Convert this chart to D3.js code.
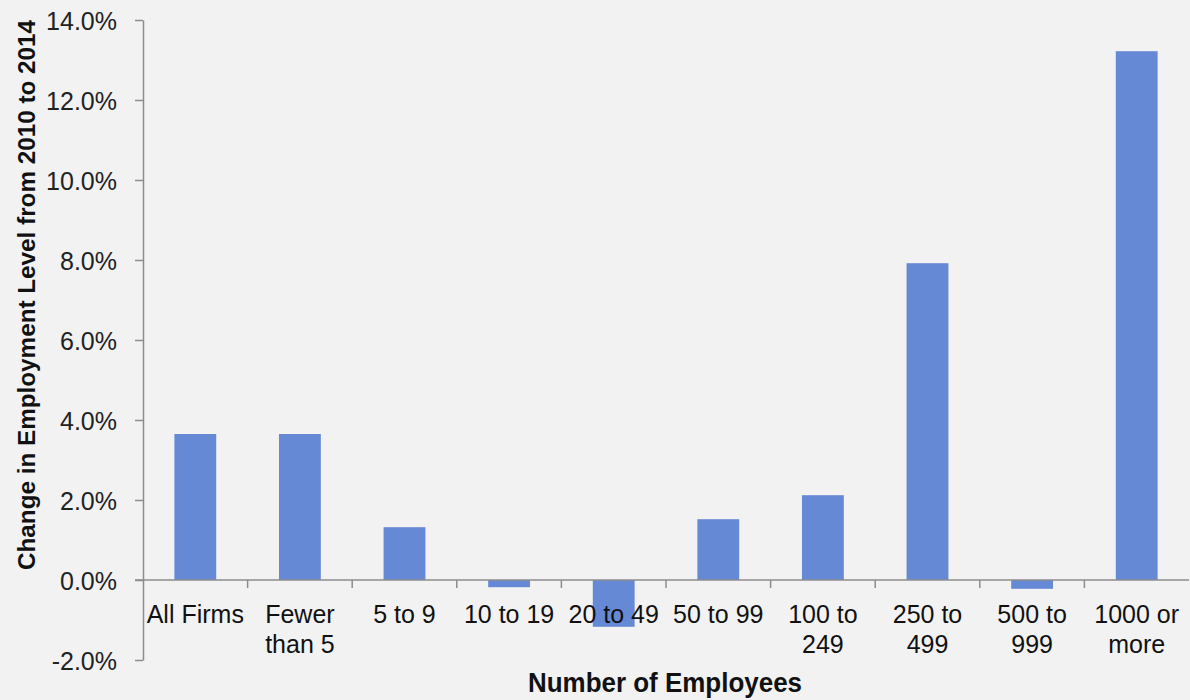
<!DOCTYPE html>
<html>
<head>
<meta charset="utf-8">
<script src="https://cdn.jsdelivr.net/npm/d3@7"></script>
<style>
  body { margin: 0; background: #f2f2f2; }
  svg { display: block; }
</style>
</head>
<body>
<svg id="chart" width="1190" height="700"></svg>
<script>
// categories (each is one or two label lines)
const categories = ["All Firms", "Fewer than 5", "5 to 9", "10 to 19", "20 to 49",
  "50 to 99", "100 to 249", "250 to 499", "500 to 999", "1000 or more"];
const labelLines = [["All Firms"], ["Fewer", "than 5"], ["5 to 9"], ["10 to 19"], ["20 to 49"],
  ["50 to 99"], ["100 to", "249"], ["250 to", "499"], ["500 to", "999"], ["1000 or", "more"]];
// change in employment level, percent
const changes = [3.65, 3.65, 1.32, -0.18, -1.17, 1.52, 2.12, 7.92, -0.22, 13.22];
const yTicks = [-2, 0, 2, 4, 6, 8, 10, 12, 14];

var svg = d3.select("#chart");
var axisColor = "#8c8c8c";

var x = d3.scaleBand()
  .domain(categories)
  .range([143, 1189]);

var y = d3.scaleLinear()
  .domain([-2, 14])
  .range([660, 20]);

// bars - gap width like excel (bar is 40% of the category)
var barW = x.bandwidth() * 0.4;
svg.selectAll("rect.bar")
  .data(categories)
  .enter()
  .append("rect")
  .attr("class", "bar")
  .attr("x", d => x(d) + (x.bandwidth() - barW) / 2)
  .attr("y", (d, i) => y(Math.max(0, changes[i])))
  .attr("width", barW)
  .attr("height", (d, i) => Math.abs(y(changes[i]) - y(0)))
  .attr("fill", "#6689d6");

// y axis
var yAxis = svg.append("g")
  .attr("transform", "translate(143,0)")
  .call(d3.axisLeft(y).tickValues(yTicks).tickSize(8).tickSizeOuter(0)
    .tickFormat(d => d.toFixed(1) + "%"));
yAxis.selectAll("line, path").attr("stroke", axisColor).attr("stroke-width", 1.5);
yAxis.selectAll("text")
  .attr("x", -26)
  .attr("dy", "0.36em")
  .attr("fill", "#222")
  .style("font-family", "'Liberation Sans', Arial, sans-serif")
  .style("font-size", "25px");

// x axis at zero
var xAxis = svg.append("g")
  .attr("transform", `translate(0,${y(0)})`);
xAxis.append("line")
  .attr("x1", 135).attr("x2", 1189)
  .attr("stroke", axisColor).attr("stroke-width", 1.5);
xAxis.selectAll("line.tick")
  .data(categories.slice(1))
  .enter()
  .append("line")
  .attr("class", "tick")
  .attr("x1", d => x(d)).attr("x2", d => x(d))
  .attr("y1", 0).attr("y2", 8)
  .attr("stroke", axisColor).attr("stroke-width", 1.5);

// category labels
var labels = svg.selectAll("text.cat")
  .data(categories)
  .enter()
  .append("text")
  .attr("class", "cat")
  .attr("text-anchor", "middle")
  .attr("fill", "#111")
  .style("font-family", "'Liberation Sans', Arial, sans-serif")
  .style("font-size", "25px");
labels.each(function (d, i) {
  d3.select(this).selectAll("tspan")
    .data(labelLines[i])
    .enter()
    .append("tspan")
    .attr("x", x(d) + x.bandwidth() / 2)
    .attr("y", (l, j) => 623 + j * 30)
    .text(l => l);
});

// axis titles
svg.append("text")
  .attr("transform", "translate(35,295) rotate(-90)")
  .attr("text-anchor", "middle")
  .attr("textLength", 550)
  .attr("lengthAdjust", "spacingAndGlyphs")
  .attr("fill", "#111")
  .style("font-family", "'Liberation Sans Narrow', 'Liberation Sans', Arial, sans-serif")
  .style("font-weight", "bold")
  .style("font-size", "24px")
  .text("Change in Employment Level from 2010 to 2014");

svg.append("text")
  .attr("x", 665)
  .attr("y", 692)
  .attr("text-anchor", "middle")
  .attr("textLength", 274)
  .attr("lengthAdjust", "spacingAndGlyphs")
  .attr("fill", "#111")
  .style("font-family", "'Liberation Sans Narrow', 'Liberation Sans', Arial, sans-serif")
  .style("font-weight", "bold")
  .style("font-size", "27px")
  .text("Number of Employees");
</script>
</body>
</html>
